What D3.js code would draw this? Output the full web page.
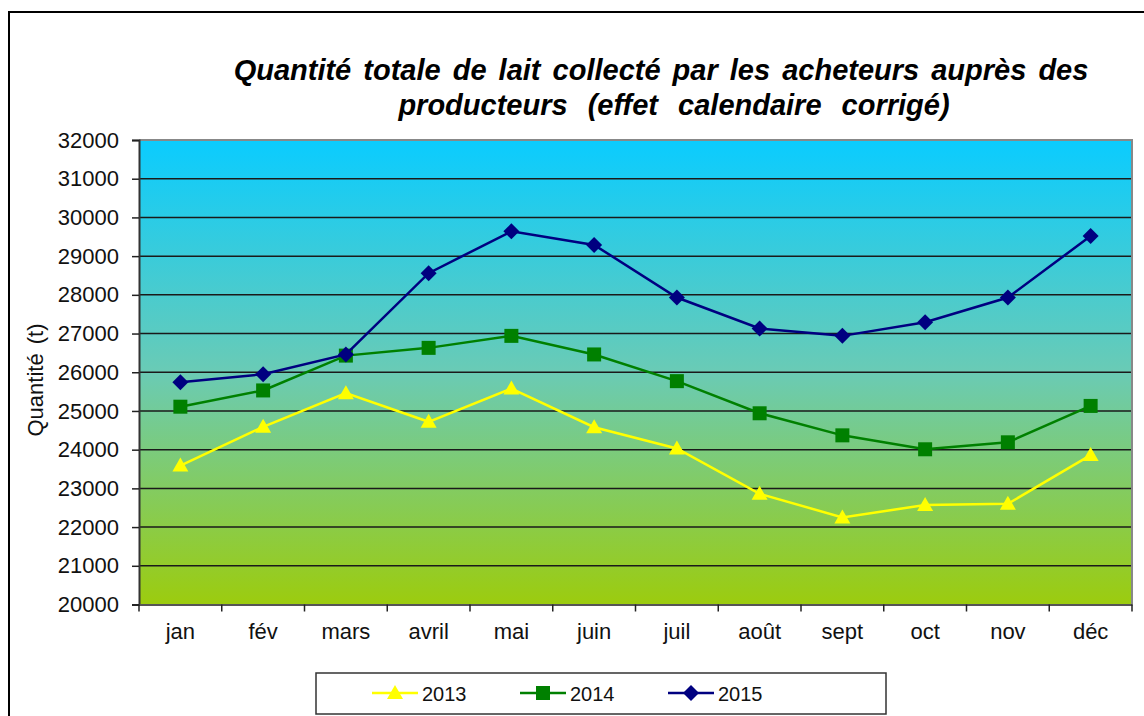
<!DOCTYPE html>
<html><head><meta charset="utf-8">
<script src="https://cdn.jsdelivr.net/npm/d3@7"></script>
<style>body{margin:0;background:#fff;} svg{display:block;font-family:"Liberation Sans",Arial,sans-serif;}</style>
</head><body>
<svg id="c" width="1144" height="716"></svg>
<script>
const months = ["jan","fév","mars","avril","mai","juin","juil","août","sept","oct","nov","déc"];
const years = ["2013","2014","2015"];
const v2013 = [23590,24590,25460,24720,25580,24580,24030,22860,22250,22570,22600,23860];
const v2014 = [25110,25530,26430,26630,26940,26460,25770,24940,24370,24010,24190,25130];
const v2015 = [25740,25950,26460,28560,29640,29290,27930,27130,26940,27290,27930,29520];
const yTicks = [20000,21000,22000,23000,24000,25000,26000,27000,28000,29000,30000,31000,32000];
const colors = ["#FFFF00","#008000","#000080"];
const shapes = ["triangle","square","diamond"];
const series = [v2013,v2014,v2015];

const svg = d3.select("#c");
const L=139, R=1132, T=140, B=604.5;
const x = d3.scaleBand().domain(months).range([L,R]);
const y = d3.scaleLinear().domain([20000,32000]).range([B,T]);
const FONT = "Liberation Sans, Arial, sans-serif";

// outer frame
svg.append("rect").attr("x",9).attr("y",12).attr("width",1150).attr("height",720)
  .attr("fill","none").attr("stroke","#000").attr("stroke-width",2);

// gradient
const defs = svg.append("defs");
const g = defs.append("linearGradient").attr("id","bg").attr("x1",0).attr("y1",0).attr("x2",0).attr("y2",1);
g.append("stop").attr("offset","0%").attr("stop-color","#0ACCFF");
g.append("stop").attr("offset","50%").attr("stop-color","#6ACBB5");
g.append("stop").attr("offset","100%").attr("stop-color","#9CCC0E");
svg.append("rect").attr("x",L).attr("y",T).attr("width",R-L).attr("height",B-T).attr("fill","url(#bg)");

// gridlines
svg.append("g").selectAll("line").data(yTicks.filter(d=>d>20000 && d<32000)).join("line")
  .attr("x1",L).attr("x2",R).attr("y1",d=>y(d)).attr("y2",d=>y(d))
  .attr("stroke","#1a1a1a").attr("stroke-width",1.5);

// plot border (top/right grey)
svg.append("path").attr("d",`M${L},${T}H${R}V${B}`).attr("fill","none").attr("stroke","#888").attr("stroke-width",2);

// y axis
const ya = svg.append("g").attr("transform",`translate(${L},0)`)
  .call(d3.axisLeft(y).tickValues(yTicks).tickSize(7).tickPadding(13).tickFormat(d=>String(d)));
ya.select(".domain").attr("stroke","#333").attr("stroke-width",2);
ya.selectAll(".tick line").attr("stroke","#222").attr("stroke-width",1.5);
ya.selectAll("text").attr("font-size",22).attr("fill","#111").attr("font-family",FONT);

// x axis
const xa = svg.append("g").attr("transform",`translate(0,${B})`)
  .call(d3.axisBottom(x).tickSize(0).tickPadding(19));
xa.select(".domain").attr("stroke","#555").attr("stroke-width",2);
xa.selectAll("text").attr("font-size",22).attr("fill","#111").attr("font-family",FONT);
const edges = months.map(m=>x(m)).concat([R]);
svg.append("g").selectAll("line").data(edges).join("line")
  .attr("x1",d=>d).attr("x2",d=>d).attr("y1",B).attr("y2",B+7).attr("stroke","#222").attr("stroke-width",1.5);

// y label
svg.append("text").attr("transform","translate(43,380) rotate(-90)").attr("text-anchor","middle")
  .attr("font-size",22).attr("fill","#111").attr("word-spacing","3px").text("Quantité  (t)");

// title
const title = svg.append("text").attr("text-anchor","middle").attr("font-size",29)
  .attr("font-weight","bold").attr("font-style","italic").attr("fill","#000");
title.append("tspan").attr("x",661).attr("y",80).attr("word-spacing","4px").text("Quantité totale de lait collecté par les acheteurs auprès des");
title.append("tspan").attr("x",674).attr("y",115).attr("word-spacing","12px").text("producteurs (effet calendaire corrigé)");

// symbol
function marker(sel, shape, color, cx, cy){
  if(shape==="triangle"){
    sel.append("path").attr("d",`M${cx},${cy-8}L${cx+8},${cy+6}L${cx-8},${cy+6}Z`).attr("fill",color);
  } else if(shape==="square"){
    sel.append("rect").attr("x",cx-7).attr("y",cy-7).attr("width",14).attr("height",14).attr("fill",color);
  } else {
    sel.append("path").attr("d",`M${cx},${cy-8}L${cx+8},${cy}L${cx},${cy+8}L${cx-8},${cy}Z`).attr("fill",color);
  }
}
const line = d3.line().x((d,i)=>x(months[i])+x.bandwidth()/2).y(d=>y(d));
series.forEach((s,k)=>{
  const gg = svg.append("g");
  gg.append("path").datum(s).attr("d",line).attr("fill","none").attr("stroke",colors[k]).attr("stroke-width",2.5);
  s.forEach((v,i)=>marker(gg,shapes[k],colors[k],x(months[i])+x.bandwidth()/2,y(v)));
});

// legend
svg.append("rect").attr("x",316).attr("y",673).attr("width",570).attr("height",41)
  .attr("fill","#fff").attr("stroke","#333").attr("stroke-width",1.5);
const lx = [372,520,668];
years.forEach((yr,k)=>{
  const lg = svg.append("g");
  lg.append("line").attr("x1",lx[k]).attr("x2",lx[k]+46).attr("y1",693).attr("y2",693).attr("stroke",colors[k]).attr("stroke-width",2.5);
  marker(lg,shapes[k],colors[k],lx[k]+23,693);
  lg.append("text").attr("x",lx[k]+50).attr("y",700.5).attr("font-size",20).attr("fill","#111").text(yr);
});
</script>
</body></html>
